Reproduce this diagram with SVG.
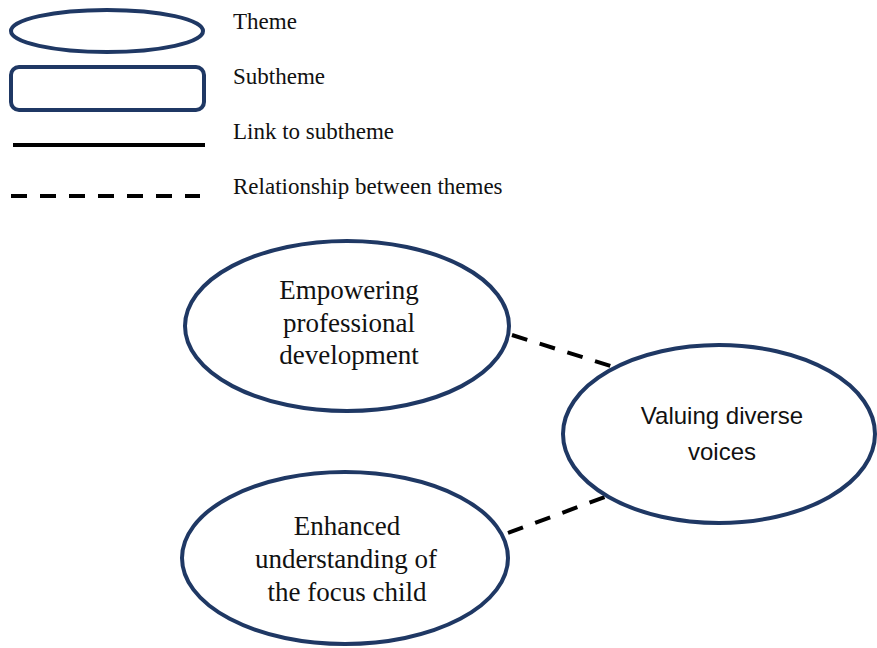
<svg xmlns="http://www.w3.org/2000/svg" width="877" height="648" viewBox="0 0 877 648">
  <style>
    .theme { fill: #ffffff; stroke: #1f3864; stroke-width: 4; }
    .serif { font-family: "Liberation Serif", "Times New Roman", serif; fill: #111111; }
    .legend-label { font-size: 23px; }
    .node-label { font-size: 27px; text-anchor: middle; }
    .sans-label { font-family: "Liberation Sans", Arial, sans-serif; font-size: 24px; text-anchor: middle; fill: #111111; }
    .dash { stroke: #000000; stroke-width: 4; stroke-dasharray: 16 13; fill: none; }
  </style>
  <rect width="877" height="648" fill="#ffffff"/>

  <!-- Legend -->
  <g id="legend">
    <ellipse class="theme" cx="107" cy="31" rx="96" ry="21"/>
    <rect class="theme" x="11" y="67" width="193" height="43" rx="8" ry="8"/>
    <line x1="13" y1="145" x2="205" y2="145" stroke="#000000" stroke-width="4"/>
    <line class="dash" x1="11" y1="196" x2="200" y2="196"/>
    <text class="serif legend-label" x="233" y="29">Theme</text>
    <text class="serif legend-label" x="233" y="84">Subtheme</text>
    <text class="serif legend-label" x="233" y="139">Link to subtheme</text>
    <text class="serif legend-label" x="233" y="194">Relationship between themes</text>
  </g>

  <!-- Relationships between themes -->
  <g id="connectors">
    <line class="dash" x1="512" y1="335" x2="617" y2="368"/>
    <line class="dash" x1="508" y1="533" x2="610" y2="495"/>
  </g>

  <g id="empowering">
    <ellipse class="theme" cx="347" cy="326" rx="162" ry="85"/>
    <text class="serif node-label" x="349" y="299">Empowering</text>
    <text class="serif node-label" x="349" y="332">professional</text>
    <text class="serif node-label" x="349" y="364">development</text>
  </g>

  <g id="valuing">
    <ellipse class="theme" cx="719" cy="434" rx="156" ry="89"/>
    <text class="sans-label" x="722" y="424">Valuing diverse</text>
    <text class="sans-label" x="722" y="460">voices</text>
  </g>

  <g id="enhanced">
    <ellipse class="theme" cx="345" cy="558" rx="163" ry="86"/>
    <text class="serif node-label" x="347" y="535">Enhanced</text>
    <text class="serif node-label" x="346" y="568">understanding of</text>
    <text class="serif node-label" x="347" y="601">the focus child</text>
  </g>
</svg>
